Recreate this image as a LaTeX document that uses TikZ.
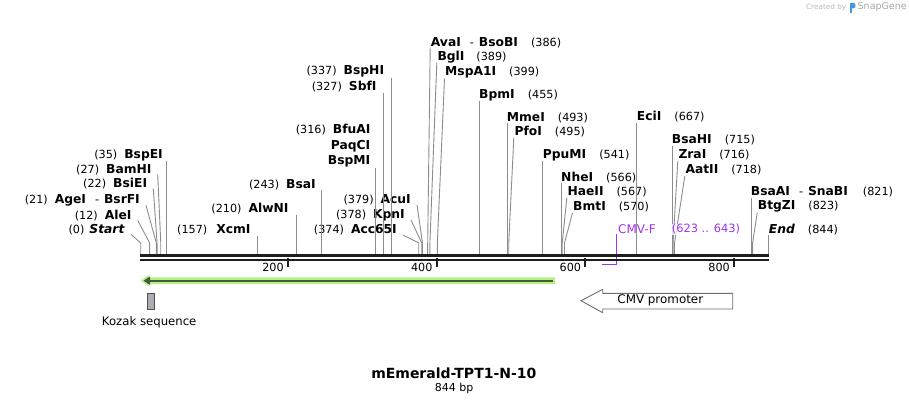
\documentclass[tikz,border=0pt]{standalone}
\usepackage{fontspec}
\setmainfont{DejaVu Sans}
\definecolor{bbcol}{RGB}{30,30,30}
\definecolor{leadgray}{RGB}{140,140,140}
\definecolor{primer}{RGB}{160,50,240}
\definecolor{glight}{RGB}{180,242,130}
\definecolor{gdark}{RGB}{70,90,60}
\definecolor{promo}{RGB}{110,110,110}
\definecolor{kozak}{RGB}{170,173,180}
\definecolor{logoblue}{RGB}{70,150,220}
\newcommand\nm[1]{\textbf{\fontsize{12.3}{14}\selectfont #1}}
\newcommand\bpx[1]{140.7+0.7435*#1}
\newcommand\cutL[5]{%
  \node[lbl,anchor=east] (n#1) at (#3,#4) {#5};
  \coordinate (s#1) at ({\bpx{#2}},254.5);
  \coordinate (b#1) at ({\bpx{#2}},243);}
\newcommand\cutR[5]{%
  \node[lbl,anchor=west] (n#1) at (#3,#4) {#5};
  \coordinate (s#1) at ({\bpx{#2}},254.5);
  \coordinate (b#1) at ({\bpx{#2}},243);}
\newcommand\leadL[1]{\draw[lead] (n#1.east) ++(6,5) -- (b#1) -- (s#1);}
\newcommand\leadR[1]{\draw[lead] (n#1.west) ++(-0.5,6) -- (b#1) -- (s#1);}
\newcommand\leadV[1]{\draw[lead] (s#1 |- n#1.south) ++(0,0.5) -- (s#1);}
\newcommand\tickmark[1]{%
  \coordinate (t#1) at ({\bpx{#1}-1.5},258);
  \draw[bbcol,line width=2pt] (t#1) -- ++(0,8.5);
  \node[lbl,anchor=east] (tl#1) at ({\bpx{#1}-5.5},267) {#1};}
\tikzset{
  lbl/.style={inner sep=0pt,font=\fontsize{11.2}{13}\selectfont},
  lead/.style={draw=leadgray,line width=0.9pt},
}
\begin{document}
\begin{tikzpicture}[x=1pt,y=-1pt]
\useasboundingbox (0,0) rectangle (909,404);
% ---- labels, left side
\cutL{Start}{0}{125}{229.3}{(0)\hspace{5pt}\nm{\itshape Start}}
\cutL{AleI}{12}{131.7}{215.3}{(12)\hspace{7pt}\nm{AleI}}
\cutL{AgeI}{21}{140}{200.3}{(21)\hspace{7pt}\nm{AgeI}\hspace{9pt}-\hspace{5pt}\nm{BsrFI}}
\cutL{BsiEI}{22}{147.3}{183.7}{(22)\hspace{7pt}\nm{BsiEI}}
\cutL{BamHI}{27}{151.7}{169.3}{(27)\hspace{7pt}\nm{BamHI}}
\cutL{BspEI}{35}{163}{155}{(35)\hspace{7pt}\nm{BspEI}}
\cutL{XcmI}{157}{250.7}{230}{(157)\hspace{9pt}\nm{XcmI}}
\cutL{AlwNI}{210}{288.7}{209}{(210)\hspace{7pt}\nm{AlwNI}}
\cutL{BsaI}{243}{316}{184.3}{(243)\hspace{7pt}\nm{BsaI}}
\node[lbl,anchor=east] (nBfuAI) at (370.7,130) {(316)\hspace{7pt}\nm{BfuAI}};
\node[lbl,anchor=east] (nPaqCI) at (370.5,146) {\nm{PaqCI}};
\cutL{BspMI}{316}{370.5}{161.7}{\nm{BspMI}}
\cutL{BspHI}{337}{384.3}{71.7}{(337)\hspace{7pt}\nm{BspHI}}
\cutL{SbfI}{327}{376.7}{86.7}{(327)\hspace{7pt}\nm{SbfI}}
\cutL{AcuI}{379}{411}{200}{(379)\hspace{7pt}\nm{AcuI}}
\cutL{KpnI}{378}{405}{215}{(378)\hspace{7pt}\nm{KpnI}}
\cutL{Acc65I}{374}{397}{230}{(374)\hspace{7pt}\nm{Acc65I}}
% ---- labels, right side
\cutR{AvaI}{386}{430.7}{42.3}{\nm{AvaI}\hspace{9pt}-\hspace{5pt}\nm{BsoBI}\hspace{13pt}(386)}
\cutR{BglI}{389}{437.3}{56.7}{\nm{BglI}\hspace{12pt}(389)}
\cutR{MspA1I}{399}{445}{72.3}{\nm{MspA1I}\hspace{13pt}(399)}
\cutR{BpmI}{455}{479}{95}{\nm{BpmI}\hspace{13pt}(455)}
\cutR{MmeI}{493}{506.7}{117.3}{\nm{MmeI}\hspace{13pt}(493)}
\cutR{PfoI}{495}{514.3}{131.7}{\nm{PfoI}\hspace{13pt}(495)}
\cutR{PpuMI}{541}{542.7}{155}{\nm{PpuMI}\hspace{13pt}(541)}
\cutR{NheI}{566}{561}{177.3}{\nm{NheI}\hspace{13pt}(566)}
\cutR{HaeII}{567}{567.3}{191.7}{\nm{HaeII}\hspace{13pt}(567)}
\cutR{BmtI}{570}{573}{206.7}{\nm{BmtI}\hspace{13pt}(570)}
\cutR{EciI}{667}{636.7}{116.7}{\nm{EciI}\hspace{13pt}(667)}
\cutR{BsaHI}{715}{671.7}{140}{\nm{BsaHI}\hspace{13pt}(715)}
\cutR{ZraI}{716}{678.3}{155}{\nm{ZraI}\hspace{13pt}(716)}
\cutR{AatII}{718}{685.3}{170}{\nm{AatII}\hspace{13pt}(718)}
\cutR{BsaAI}{821}{750.7}{191.7}{\nm{BsaAI}\hspace{9pt}-\hspace{5pt}\nm{SnaBI}\hspace{15pt}(821)}
\cutR{BtgZI}{823}{757.7}{206.7}{\nm{BtgZI}\hspace{13pt}(823)}
\cutR{End}{844}{768.7}{229.3}{\nm{\itshape End}\hspace{13pt}(844)}
% ---- leaders
\leadL{Start}\leadL{AleI}\leadL{AgeI}\leadL{BsiEI}\leadL{BamHI}
\leadV{BspEI}\leadV{XcmI}\leadV{AlwNI}\leadV{BsaI}\leadV{BspMI}
\leadV{BspHI}\leadV{SbfI}
\leadL{AcuI}\leadL{KpnI}\leadL{Acc65I}
\leadR{AvaI}\leadR{BglI}\leadR{MspA1I}
\leadV{BpmI}\leadV{MmeI}\leadR{PfoI}\leadV{PpuMI}\leadV{NheI}
\leadR{HaeII}\leadR{BmtI}\leadV{EciI}\leadV{BsaHI}\leadR{ZraI}\leadR{AatII}
\leadV{BsaAI}\leadR{BtgZI}\leadV{End}
% ---- primer
\node[lbl,anchor=west,text=primer,font=\fontsize{12}{14}\selectfont] (pCMVF) at (618,229.3) {CMV-F};
\node[lbl,anchor=west,text=primer,font=\fontsize{11.4}{13}\selectfont,fill=white,fill opacity=0.75,text opacity=1,inner sep=0.5pt] (pRange) at (671.2,229.3) {(623 .. 643)};
\coordinate (pEnd) at ({\bpx{643}-2.2},264.2);
\coordinate (pStart) at ({\bpx{623}-1.5},264.2);
\draw[primer,line width=1.4pt] (pEnd |- pCMVF.south) -- (pEnd) -- (pStart);
% ---- backbone
\coordinate (bbL) at (140,255.3);
\coordinate (bbR) at (768.5,255.3);
\draw[bbcol,line width=2.7pt] (bbL) -- (bbR);
\draw[bbcol,line width=2.2pt] ([yshift=-4.3pt]bbL) -- ([yshift=-4.3pt]bbR);
\tickmark{200}\tickmark{400}\tickmark{600}\tickmark{800}
% ---- green feature (reverse)
\fill[glight] (141,280.7) -- (148.5,275) -- (148.5,277.4) -- (555,277.4) -- (555,284) -- (148.5,284) -- (148.5,286.4) -- cycle;
\coordinate (gR) at (553.3,280.7);
\coordinate (gL) at (143.5,280.7);
\draw[gdark,line width=2.3pt] (gR) -- ([xshift=6pt]gL);
\fill[gdark] (gL) -- ++(6.5,-4.2) -- ++(0,8.4) -- cycle;
% ---- Kozak
\node[draw={rgb,255:red,80;green,80;blue,80},fill=kozak,line width=0.8pt,minimum width=7pt,minimum height=15.5pt,inner sep=0pt] (kozak) at (150.8,301.2) {};
\node[inner sep=0pt,font=\fontsize{11.7}{13}\selectfont] (kozakL) at (149.2,322.7) {Kozak sequence};
% ---- CMV promoter
\draw[promo,fill=white,line width=0.9pt] (581,300.7) -- (602.7,289.3) -- (602.7,293.3) -- (732.7,293.3) -- (732.7,309) -- (602.7,309) -- (602.7,312.7) -- cycle;
\node[inner sep=0pt,font=\fontsize{11.9}{13}\selectfont] (cmvL) at (660.3,300.7) {CMV promoter};
% ---- title
\node[inner sep=0pt,font=\bfseries\fontsize{14}{16}\selectfont] (title) at (453.8,373.3) {mEmerald-TPT1-N-10};
\node[inner sep=0pt,font=\fontsize{11}{13}\selectfont] (len) at (454.2,388.3) {844 bp};
% ---- credit
\node[inner sep=0pt,anchor=east,text=gray!55,font=\fontsize{7.3}{9}\selectfont] (cb) at (846.5,7.3) {Created by};
\fill[logoblue] (849.8,3) rectangle (852.3,13);
\fill[logoblue,rounded corners=1.2pt] (851.5,3) rectangle (855.3,8.3);
\node[inner sep=0pt,anchor=west,text=gray!70,font=\fontsize{9.5}{11}\selectfont] (sg) at (857.5,7.3) {SnapGene};
\end{tikzpicture}
\end{document}
